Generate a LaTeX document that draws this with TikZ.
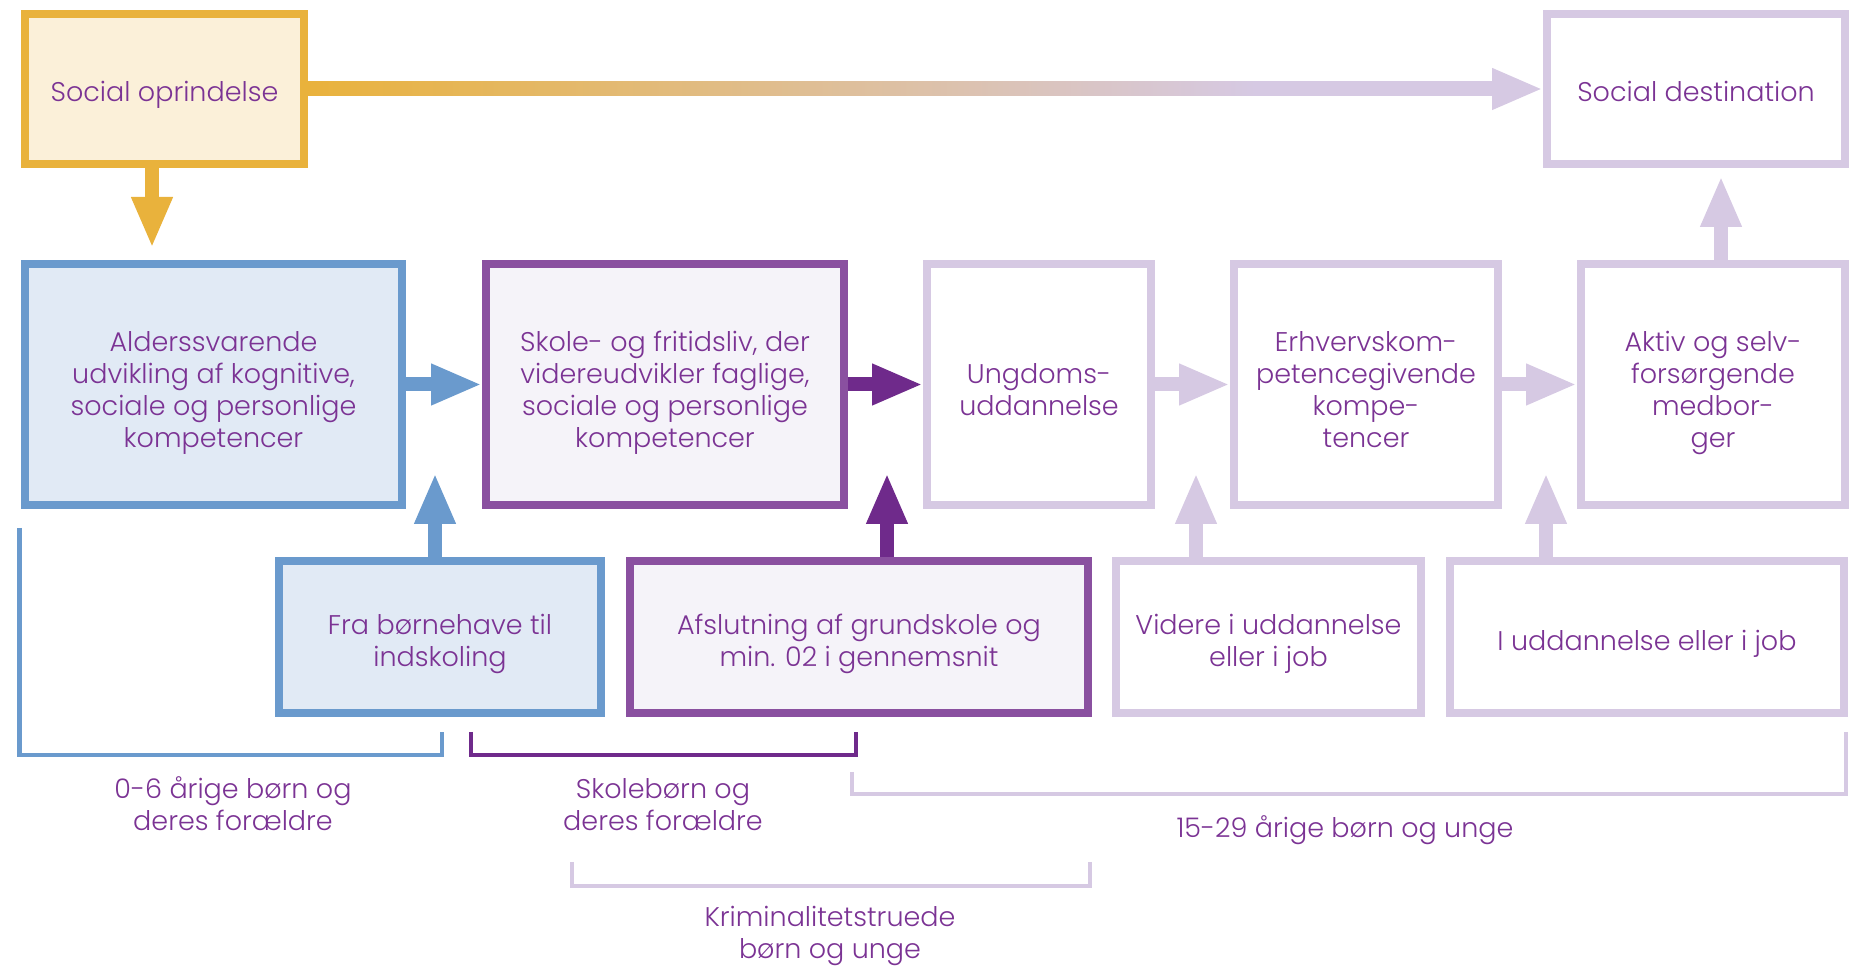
\documentclass[tikz,border=0pt]{standalone}
\usepackage{fontspec}
\setmainfont{Poppins}[UprightFont={* Light}]
\usetikzlibrary{arrows.meta,calc}
\definecolor{gold}{HTML}{E9B23C}
\definecolor{goldfill}{HTML}{FBF0D9}
\definecolor{bluec}{HTML}{6A9ACD}
\definecolor{bluefill}{HTML}{E1EAF5}
\definecolor{midpurple}{HTML}{8A50A0}
\definecolor{purplefill}{HTML}{F5F3F9}
\definecolor{darkpurple}{HTML}{6F2A8B}
\definecolor{lav}{HTML}{D6C9E3}
\definecolor{txt}{HTML}{7B3394}
\pgfdeclarehorizontalshading{goldlav}{100bp}{color(0bp)=(gold); color(25bp)=(gold); color(65bp)=(lav); color(100bp)=(lav)}
\newcommand{\boxtxt}[2][-3pt]{\raisebox{#1}[\height][\depth]{\begin{tabular}{@{}c@{}}#2\end{tabular}}}
\begin{document}
\begin{tikzpicture}[x=0.5pt,y=-0.5pt,
  every node/.style={font=\fontsize{13.5pt}{16pt}\selectfont, text=txt, align=center, inner sep=0pt},
  box/.style={draw, line width=4pt, rectangle},
  bigbox/.style={box, minimum height=120.5pt},
  smallbox/.style={box, minimum height=76pt},
  topbox/.style={box, minimum height=75pt},
  arr/.style={line width=7pt, line cap=butt, -{Triangle[length=25.5pt,width=19pt]}},
  brk/.style={line width=2.25pt, line cap=butt, miter limit=10}
]
\useasboundingbox (0,0) rectangle (1865,967);

% top row
\node[topbox, draw=gold, fill=goldfill, minimum width=139.5pt] (SO) at (164.5,89) {\boxtxt{Social oprindelse}};
\node[topbox, draw=lav, fill=white, minimum width=149pt] (SD) at (1696,89) {\boxtxt{Social destination}};

% middle row
\node[bigbox, draw=bluec, fill=bluefill, minimum width=188.5pt] (A) at (213.5,384.5) {\boxtxt[-4.5pt]{Alderssvarende\\udvikling af kognitive,\\sociale og personlige\\kompetencer}};
\node[bigbox, draw=midpurple, fill=purplefill, minimum width=179pt] (B) at (665,384.5) {\boxtxt[-4.5pt]{Skole- og fritidsliv, der\\videreudvikler faglige,\\sociale og personlige\\kompetencer}};
\node[bigbox, draw=lav, fill=white, minimum width=112pt] (C) at (1039,384.5) {\boxtxt[-4.5pt]{Ungdoms-\\uddannelse}};
\node[bigbox, draw=lav, fill=white, minimum width=132pt] (D) at (1366,384.5) {\boxtxt[-4.5pt]{Erhvervskom-\\petencegivende\\kompe-\\tencer}};
\node[bigbox, draw=lav, fill=white, minimum width=132pt] (E) at (1713,384.5) {\boxtxt[-4.5pt]{Aktiv og selv-\\forsørgende\\medbor-\\ger}};

% bottom row
\node[smallbox, draw=bluec, fill=bluefill, minimum width=161pt] (F) at (440,637) {\boxtxt[-3.5pt]{Fra børnehave til\\indskoling}};
\node[smallbox, draw=midpurple, fill=purplefill, minimum width=229pt] (G) at (859,637) {\boxtxt[-3.5pt]{Afslutning af grundskole og\\min. 02 i gennemsnit}};
\node[smallbox, draw=lav, fill=white, minimum width=152.5pt] (H) at (1268.5,637) {\boxtxt[-3.5pt]{Videre i uddannelse\\eller i job}};
\node[smallbox, draw=lav, fill=white, minimum width=197pt] (I) at (1647,637) {\boxtxt[-3.5pt]{I uddannelse eller i job}};

% arrow tips
\coordinate (t0) at (152,248);
\coordinate (tSD) at (1721,176);
\coordinate (tF) at (435,473);
\coordinate (tG) at (887,473);
\coordinate (tH) at (1196,473);
\coordinate (tI) at (1546,473);

% gradient arrow
\draw[arr, lav] (SO.east) -- (SD.west);
\shade[shading=goldlav] ($(SO.east)+(0,-7)$) rectangle ($(SD.west)+(-51,7)$);

\draw[arr, gold] (SO.south -| t0) -- (t0);
\draw[arr, bluec] (A.east) -- (B.west);
\draw[arr, darkpurple] (B.east) -- (C.west);
\draw[arr, lav] (C.east) -- (D.west);
\draw[arr, lav] (D.east) -- (E.west);
\draw[arr, lav] (E.north -| tSD) -- (tSD);
\draw[arr, bluec] (F.north -| tF) -- (tF);
\draw[arr, darkpurple] (G.north -| tG) -- (tG);
\draw[arr, lav] (H.north -| tH) -- (tH);
\draw[arr, lav] (I.north -| tI) -- (tI);

% brackets
\draw[brk, bluec] (19.5,528) -- (19.5,755) -- (442,755) -- (442,732);
\draw[brk, darkpurple] (471,732) -- (471,755) -- (856,755) -- (856,732);
\draw[brk, lav] (852,772) -- (852,794) -- (1846,794) -- (1846,732);
\draw[brk, lav] (572,862) -- (572,886) -- (1090,886) -- (1090,862);

% labels
\node (L1) at (233,804) {0-6 årige børn og\\deres forældre};
\node (L2) at (663,805) {Skolebørn og\\deres forældre};
\node (L3) at (1345,830) {15-29 årige børn og unge};
\node (L4) at (830,936) {Kriminalitetstruede\\børn og unge};
\end{tikzpicture}
\end{document}
